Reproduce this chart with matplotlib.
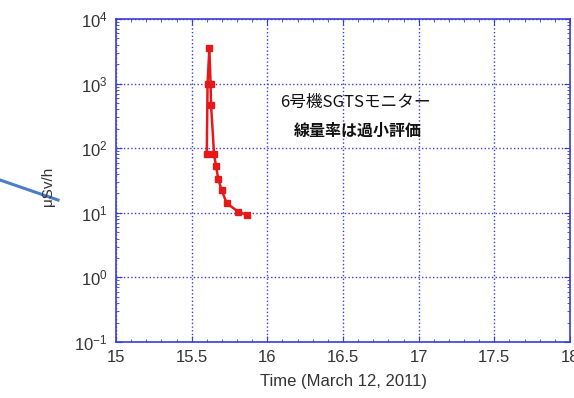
import matplotlib
matplotlib.use('Agg')
import matplotlib.pyplot as plt
from matplotlib.lines import Line2D
from matplotlib.ticker import MultipleLocator, LogLocator, NullFormatter

# time (hours, March 12, 2011) and dose rate (uSv/h)
time = [15.600, 15.605, 15.617, 15.625, 15.628, 15.648, 15.661, 15.676, 15.698, 15.732, 15.808, 15.868]
dose = [80, 1000, 3500, 1000, 470, 80, 53, 33, 22.5, 14, 10.4, 9.2]

note1 = '6号機SGTSモニター'
note2 = '線量率は過小評価'

plt.rcParams['font.family'] = ['Liberation Sans', 'DejaVu Sans']
edge = '#3c3cd8'

fig = plt.figure(figsize=(5.74, 3.98), dpi=100)
ax = fig.add_axes([116/574, 1 - 342/398, (570-116)/574, (342-19)/398])

ax.plot(time, dose, color='#e41a1a', lw=1.8, marker='s', ms=4.5)

ax.set_yscale('log')
ax.set_xlim(15, 18)
ax.set_ylim(0.1, 1e4)
ax.xaxis.set_major_locator(MultipleLocator(0.5))
ax.xaxis.set_minor_locator(MultipleLocator(0.1))
ax.yaxis.set_major_locator(LogLocator(base=10, numticks=10))
ax.yaxis.set_minor_locator(LogLocator(base=10, subs=range(2, 10), numticks=20))
ax.yaxis.set_minor_formatter(NullFormatter())
ax.set_xticks([15, 15.5, 16, 16.5, 17, 17.5, 18])
ax.set_xticklabels(['15', '15.5', '16', '16.5', '17', '17.5', '18'])

ax.grid(True, which='major', color=edge, linestyle=':', lw=1.0)
for s in ax.spines.values():
    s.set_color(edge)
    s.set_linewidth(1.2)
ax.tick_params(which='both', direction='in', top=True, right=True, color=edge,
               labelsize=12, labelcolor='#333333')
ax.tick_params(which='major', length=4)
ax.tick_params(which='minor', length=2)
ax.tick_params(axis='x', pad=6)
ax.tick_params(axis='y', pad=6)

ax.set_xlabel('Time (March 12, 2011)', fontsize=12, color='#333333', labelpad=6)
fig.text(48/574, 1 - 186/398, 'μSv/h', rotation=90, ha='center', va='center',
         fontsize=11, color='#333333')

jp = ['Noto Sans CJK JP', 'DejaVu Sans']
ax.text(16.58, 10**(4 - (102-19)/64.6), note1, family=jp, fontsize=12,
        ha='center', va='center', color='#111111')
ax.text(16.60, 10**(4 - (131-19)/64.6), note2, family=jp, fontsize=11.5,
        fontweight='bold', ha='center', va='center', color='#111111')

fig.add_artist(Line2D([0, 58/574], [1 - 180/398, 1 - 200/398], transform=fig.transFigure,
                      color='#4a7ec8', lw=2.2))

fig.savefig('out.png', dpi=100)
